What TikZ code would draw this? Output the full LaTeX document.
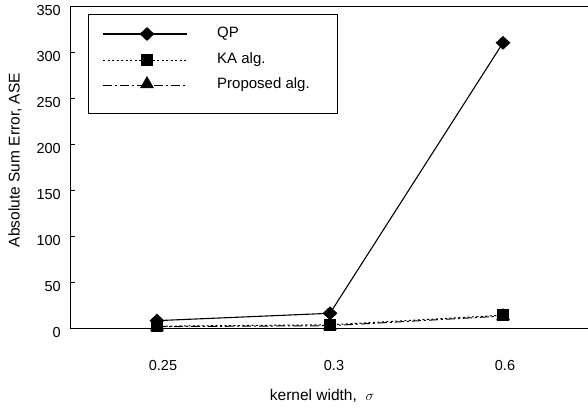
\documentclass[tikz,border=0pt]{standalone}
\usepackage{fontspec}
\setmainfont{Liberation Sans}
\usetikzlibrary{shapes.geometric}
\tikzset{
  ax/.style={line width=1pt, black},
  qpline/.style={line width=1.1pt, black},
  kaline/.style={line width=1pt, black, dash pattern=on 2pt off 2.5pt},
  prline/.style={line width=1pt, black, dash pattern=on 9pt off 3pt on 2pt off 3pt},
  qpmark/.style={diamond, fill=black, inner sep=0pt, minimum width=15pt, minimum height=14pt},
  kamark/.style={rectangle, fill=black, inner sep=0pt, minimum size=12.5pt},
  prmark/.style={regular polygon, regular polygon sides=3, fill=black, inner sep=0pt, minimum size=16pt},
  ticklab/.style={anchor=east, font=\fontsize{14.5}{16}\selectfont, inner sep=0pt},
  xlab/.style={font=\fontsize{14.5}{16}\selectfont, inner sep=0pt},
  ttl/.style={font=\fontsize{15.5}{18}\selectfont, inner sep=0pt},
  leglab/.style={anchor=west, font=\fontsize{15}{18}\selectfont, inner sep=0pt},
  tick/.style={line width=0.8pt}
}
\begin{document}
\begin{tikzpicture}[x=1pt, y=-1pt]
\useasboundingbox (0,0) rectangle (588,410);
% frame
\coordinate (tl) at (70,6);
\coordinate (bl) at (70,328);
\coordinate (br) at (588,328);
\coordinate (tr) at (588,6);
\draw[ax] (tr) -- (tl) -- (bl) -- (br);
% y ticks and labels
\foreach \v in {0,50,...,350} {
  \coordinate (t\v) at (70,{328-0.92*\v});
  \coordinate (te\v) at (75,{328-0.92*\v});
  \draw[tick] (t\v) -- (te\v);
  \node[ticklab] (yl\v) at (61,{333-0.92*\v}) {\v};
}
% x labels
\node[xlab] (x1) at (163,365) {0.25};
\node[xlab] (x2) at (334,365) {0.3};
\node[xlab] (x3) at (505,365) {0.6};
\node[ttl] (xt) at (322,396) {kernel width,\ \ $\sigma$};
\node[ttl, rotate=90] (yt) at (15,160) {Absolute Sum Error, ASE};
% data: Proposed
\node[prmark] (p1) at (157,{328-0.92*1.5}) {};
\node[prmark] (p2) at (330,{328-0.92*2.5}) {};
\node[prmark] (p3) at (503,{328-0.92*13}) {};
\draw[prline] (p1.center) -- (p2.center) -- (p3.center);
% data: KA
\node[kamark] (k1) at (157,{328-0.92*2}) {};
\node[kamark] (k2) at (330,{328-0.92*3.5}) {};
\node[kamark] (k3) at (503,{328-0.92*14}) {};
\draw[kaline] (k1.center) -- (k2.center) -- (k3.center);
% data: QP
\node[qpmark] (q1) at (157,{328-0.92*8}) {};
\node[qpmark] (q2) at (330,{328-0.92*16}) {};
\node[qpmark] (q3) at (503,{328-0.92*310}) {};
\draw[qpline] (q1.center) -- (q2.center) -- (q3.center);
% legend
\node[draw, line width=1pt, minimum width=249pt, minimum height=99pt, inner sep=0pt] (leg) at (212.5,63.5) {};
\coordinate (la1) at (103,34); \coordinate (lb1) at (187,34);
\coordinate (la2) at (103,60); \coordinate (lb2) at (187,60);
\coordinate (la3) at (103,85); \coordinate (lb3) at (187,85);
\draw[qpline] (la1) -- (lb1);
\draw[kaline] (la2) -- (lb2);
\draw[prline] (la3) -- (lb3);
\node[qpmark] (lm1) at (147,34) {};
\node[kamark] (lm2) at (147,60) {};
\node[prmark] (lm3) at (147,84) {};
\node[leglab] (lt1) at (217,34) {QP};
\node[leglab] (lt2) at (217,60) {KA alg.};
\node[leglab] (lt3) at (217,85) {Proposed alg.};
\end{tikzpicture}
\end{document}
